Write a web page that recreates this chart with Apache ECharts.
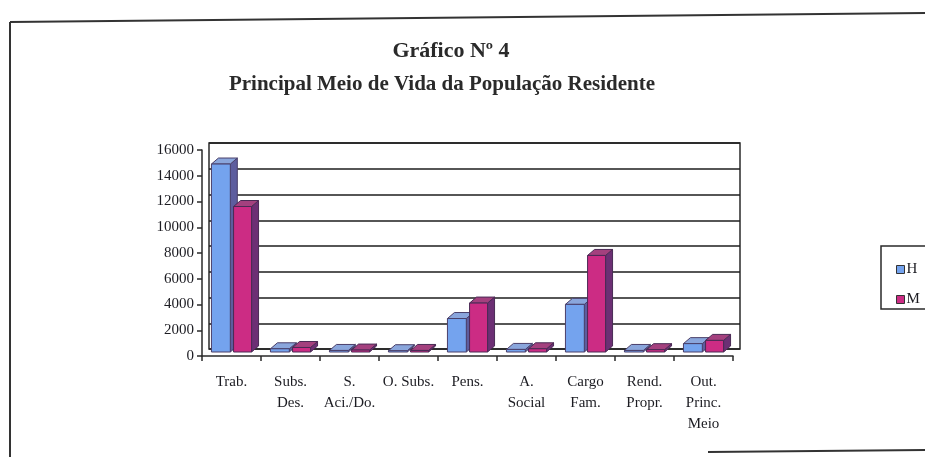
<!DOCTYPE html>
<html>
<head>
<meta charset="utf-8">
<script src="https://cdn.jsdelivr.net/npm/echarts@6/dist/echarts.min.js"></script>
<style>
  html, body { margin: 0; padding: 0; background: #fff; }
  #chart { width: 925px; height: 457px; }
</style>
</head>
<body>
<div id="chart"></div>
<script>
// Categories of main livelihood (Portuguese labels, wrapped as printed)
const categories = [
  'Trab.',
  'Subs.\nDes.',
  'S.\nAci./Do.',
  'O. Subs.',
  'Pens.',
  'A.\nSocial',
  'Cargo\nFam.',
  'Rend.\nPropr.',
  'Out.\nPrinc.\nMeio'
];

// Resident population by main livelihood: H = homens, M = mulheres
const valuesH = [14600, 250, 120, 100, 2600, 200, 3700, 120, 650];
const valuesM = [11300, 350, 150, 120, 3800, 250, 7500, 180, 900];

const seriesNames = ['H', 'M'];
const yTicks = { min: 0, max: 16000, interval: 2000 };

const FONT = '"Liberation Serif", "Times New Roman", serif';
const INK = '#1c1c22';

// Face colours for the pseudo-3D columns
const palette = {
  H: { front: '#74a3ee', top: '#8aa6dc', side: '#5d5d9e', edge: '#4a3f6a' },
  M: { front: '#cc2c84', top: '#a4407e', side: '#6c2f74', edge: '#4a2a55' }
};

// Depth of the column extrusion (pixels) and lift of the column base
const DX = 7, DY = -6, BASE_LIFT = -4;

function makeColumnRenderer(name, slot) {
  const c = palette[name];
  return function (params, api) {
    const idx = api.value(0);
    const top = api.coord([idx, api.value(1)]);
    const base = api.coord([idx, 0]);
    const band = api.size([1, 0])[0];
    let x0, x1;
    if (slot === 0) { x0 = top[0] - band * 0.34; x1 = top[0] - band * 0.02; }
    else { x0 = top[0] + band * 0.035; x1 = top[0] + band * 0.34; }
    const yt = top[1] + BASE_LIFT;
    const yb = base[1] + BASE_LIFT;
    const stroke = { stroke: c.edge, lineWidth: 1 };
    return {
      type: 'group',
      children: [
        {
          type: 'polygon',
          shape: { points: [[x1, yt], [x1 + DX, yt + DY], [x1 + DX, yb + DY], [x1, yb]] },
          style: Object.assign({ fill: c.side }, stroke)
        },
        {
          type: 'polygon',
          shape: { points: [[x0, yt], [x0 + DX, yt + DY], [x1 + DX, yt + DY], [x1, yt]] },
          style: Object.assign({ fill: c.top }, stroke)
        },
        {
          type: 'rect',
          shape: { x: x0, y: yt, width: x1 - x0, height: Math.max(yb - yt, 0) },
          style: Object.assign({ fill: c.front }, stroke)
        }
      ]
    };
  };
}

const chart = echarts.init(document.getElementById('chart'), null, { renderer: 'canvas' });

const option = {
  backgroundColor: '#ffffff',
  animation: false,
  textStyle: { fontFamily: FONT, color: INK },
  legend: {
    orient: 'vertical',
    left: 891,
    top: 257,
    itemWidth: 8,
    itemHeight: 8,
    itemGap: 15,
    icon: 'rect',
    data: seriesNames,
    textStyle: { fontFamily: FONT, fontSize: 15, color: INK, padding: [0, 0, 0, -3] },
    itemStyle: { borderColor: '#333', borderWidth: 1 }
  },
  grid: [
    // front plane: value axis and category axis
    { left: 202, right: 192, top: 150, bottom: 101, containLabel: false },
    // back wall carrying the gridlines
    { left: 209, right: 185, top: 143, bottom: 108, containLabel: false,
      show: true, borderColor: '#2a2a2a', borderWidth: 1.5, backgroundColor: 'transparent' }
  ],
  xAxis: [
    {
      gridIndex: 0,
      type: 'category',
      data: categories,
      boundaryGap: true,
      axisLine: { show: true, lineStyle: { color: '#2a2a2a', width: 1.5 } },
      axisTick: { show: true, interval: 0, length: 5, lineStyle: { color: '#2a2a2a', width: 1.5 } },
      axisLabel: {
        interval: 0,
        margin: 16,
        fontFamily: FONT,
        fontSize: 15,
        lineHeight: 21,
        color: INK,
        verticalAlign: 'top'
      },
      splitLine: { show: false }
    },
    {
      gridIndex: 1,
      type: 'category',
      data: categories,
      show: false
    }
  ],
  yAxis: [
    {
      gridIndex: 0,
      type: 'value',
      min: yTicks.min,
      max: yTicks.max,
      interval: yTicks.interval,
      axisLine: { show: true, lineStyle: { color: '#2a2a2a', width: 1.5 } },
      axisTick: { show: true, length: 5, lineStyle: { color: '#2a2a2a', width: 1.5 } },
      axisLabel: { fontFamily: FONT, fontSize: 15, color: INK, margin: 8, formatter: v => String(v) },
      splitLine: { show: false }
    },
    {
      gridIndex: 1,
      type: 'value',
      min: yTicks.min,
      max: yTicks.max,
      interval: yTicks.interval,
      axisLine: { show: false },
      axisTick: { show: false },
      axisLabel: { show: false },
      splitLine: { show: true, lineStyle: { color: '#1e1e1e', width: 1.6 } }
    }
  ],
  graphic: [
    {
      type: 'text', x: 451, y: 40, z: 10,
      style: { text: 'Gráfico Nº 4', textAlign: 'center', fontFamily: FONT, fontSize: 22, fontWeight: 'bold', fill: '#2a2a2a' }
    },
    {
      type: 'text', x: 442, y: 74, z: 10,
      style: { text: 'Principal Meio de Vida da População Residente', textAlign: 'center', fontFamily: FONT, fontSize: 21, fontWeight: 'bold', fill: '#2a2a2a' }
    },
    // page frame
    { type: 'line', shape: { x1: 10, y1: 22, x2: 925, y2: 13 }, style: { stroke: '#333', lineWidth: 2 } },
    { type: 'line', shape: { x1: 10, y1: 22, x2: 10, y2: 457 }, style: { stroke: '#333', lineWidth: 2 } },
    { type: 'line', shape: { x1: 708, y1: 452, x2: 925, y2: 450 }, style: { stroke: '#333', lineWidth: 2 } },
    // legend box
    { type: 'rect', shape: { x: 881, y: 246, width: 60, height: 63 }, style: { fill: 'none', stroke: '#2a2a2a', lineWidth: 1.5 } }
  ],
  series: [
    {
      name: 'H',
      type: 'custom',
      xAxisIndex: 0,
      yAxisIndex: 0,
      itemStyle: { color: palette.H.front },
      renderItem: makeColumnRenderer('H', 0),
      encode: { x: 0, y: 1 },
      data: valuesH.map((v, i) => [i, v]),
      z: 3
    },
    {
      name: 'M',
      type: 'custom',
      xAxisIndex: 0,
      yAxisIndex: 0,
      itemStyle: { color: palette.M.front },
      renderItem: makeColumnRenderer('M', 1),
      encode: { x: 0, y: 1 },
      data: valuesM.map((v, i) => [i, v]),
      z: 4
    }
  ]
};

chart.setOption(option);
</script>
</body>
</html>
